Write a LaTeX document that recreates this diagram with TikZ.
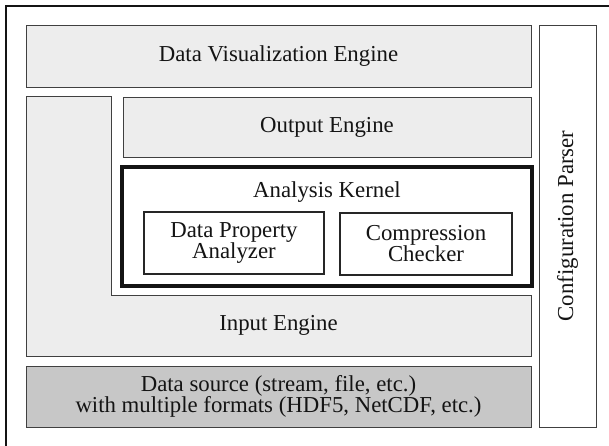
\documentclass[tikz,border=0pt]{standalone}
\usepackage{fontspec}
\setmainfont{Liberation Serif}
\begin{document}
\begin{tikzpicture}[x=1pt,y=-1pt,
  every node/.style={font=\fontsize{22.8}{21}\selectfont, text=black!92, align=center, inner sep=0pt},
  layer/.style={draw=black!75, line width=1pt, fill=black!7, rectangle},
  plain/.style={draw=black!85, line width=1.3pt, fill=white, rectangle},
  kernel/.style={draw=black!92, line width=3.4pt, fill=white, rectangle},
  source/.style={draw=black!75, line width=1pt, fill=black!22, rectangle},
  frame/.style={draw=black!92, line width=2.4pt}
]
\useasboundingbox (0,0) rectangle (609,445);
\draw[frame] (6,6) rectangle (640,470);
\node[layer, minimum width=505pt, minimum height=62pt] (dve) at (278.5,56) {Data Visualization Engine};
\draw[layer] (26,96) -- (111,96) -- (111,295) -- (531,295) -- (531,356) -- (26,356) -- cycle;
\node (ie) at (278.5,325) {Input Engine};
\node[layer, minimum width=408pt, minimum height=60pt] (oe) at (327,127) {Output Engine};
\node[kernel, minimum width=410pt, minimum height=119pt] (ak) at (327,226.5) {};
\node[anchor=base] (akl) at (327,197) {Analysis Kernel};
\node[plain, minimum width=180pt, minimum height=62pt] (dpa) at (234,243) {Data Property\\Analyzer};
\node[plain, minimum width=172pt, minimum height=62pt] (cc) at (426,244) {Compression\\Checker};
\node[source, minimum width=505pt, minimum height=61pt] (ds) at (278.5,396.5) {Data source (stream, file, etc.)\\with multiple formats (HDF5, NetCDF, etc.)};
\node[plain, line width=1pt, draw=black!75, minimum width=57pt, minimum height=402pt] (cp) at (567.5,226) {};
\node[rotate=90] (cpl) at (cp.center) {Configuration Parser};
\end{tikzpicture}
\end{document}
